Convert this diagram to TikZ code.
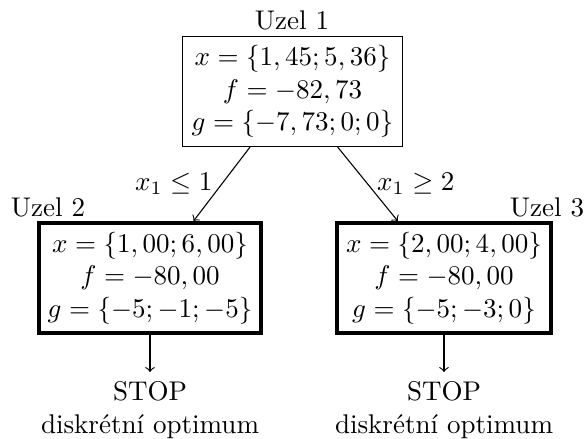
\documentclass[tikz,border=0pt]{standalone}
\usepackage{fontspec}
\begin{document}
\begin{tikzpicture}[x=0.37pt,y=-0.37pt,
  rootbox/.style={draw,line width=0.4pt,align=center,fill=white,minimum height=40.3pt},
  leafbox/.style={draw,line width=1.5pt,align=center,fill=white,minimum height=40.7pt},
  caption/.style={align=center},
  conn/.style={->,line width=0.4pt}]
\useasboundingbox (0,0) rectangle (584,439);
\node[rootbox] (n1) at (292.5,91.5) {$x=\{1,45;5,36\}$\\$f=-82,73$\\$g=\{-7,73;0;0\}$};
\node[leafbox] (n2) at (150,278) {$x=\{1,00;6,00\}$\\$f=-80,00$\\$g=\{-5;-1;-5\}$};
\node[leafbox] (n3) at (444,278) {$x=\{2,00;4,00\}$\\$f=-80,00$\\$g=\{-5;-3;0\}$};
\node (u1) at (292,20) {Uzel 1};
\node (u2) at (48,207) {Uzel 2};
\node (u3) at (547,207) {Uzel 3};
\node[caption,anchor=north] (s2) at (150,372) {STOP\\diskrétní optimum};
\node[caption,anchor=north] (s3) at (444,372) {STOP\\diskrétní optimum};
\draw[conn] (n1) -- node[left] {$x_1\le 1$} (n2);
\draw[conn] (n1) -- node[right] {$x_1\ge 2$} (n3);
\draw[conn] (n2) -- (s2);
\draw[conn] (n3) -- (s3);
\end{tikzpicture}
\end{document}
